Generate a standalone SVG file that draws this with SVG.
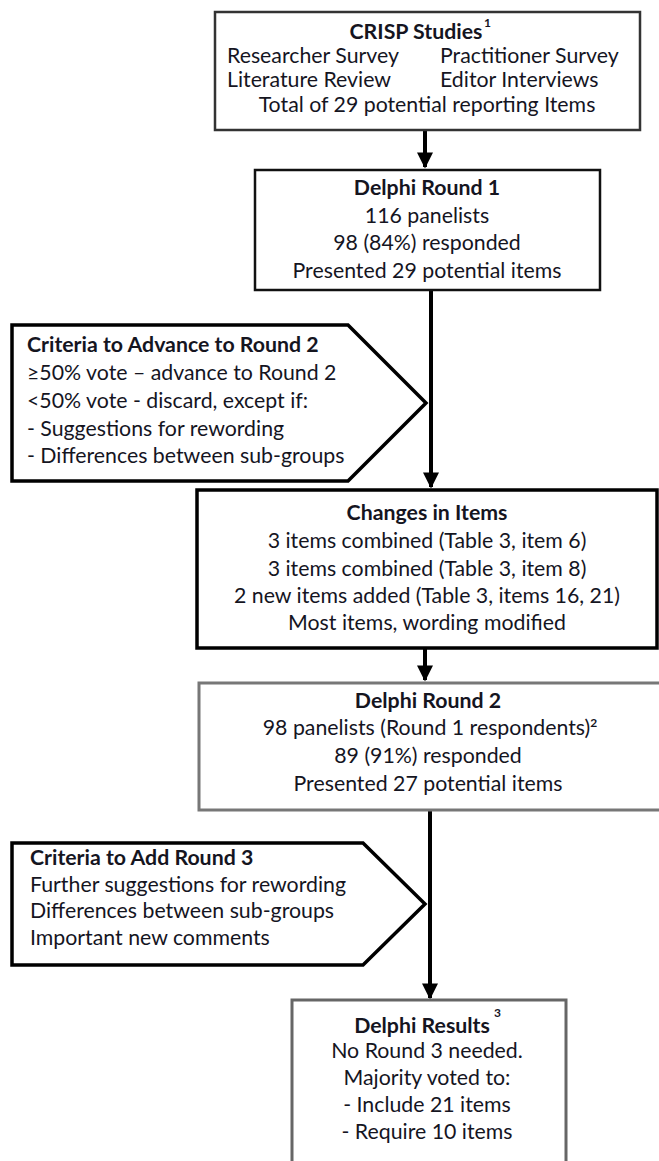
<svg xmlns="http://www.w3.org/2000/svg" width="659" height="1161" viewBox="0 0 659 1161">
<defs>
<style>
text{font-family:Lato,"Liberation Sans",sans-serif;font-size:21.3px;fill:#15151f}
.b{font-weight:bold}
.c{text-anchor:middle}
.sup{font-size:12px;font-weight:bold}
.box{fill:#fff}
.conn line{stroke:#000;stroke-width:4}
</style>
<marker id="ah" viewBox="0 0 10 10" refX="9" refY="5" markerWidth="4.2" markerHeight="4" orient="auto" markerUnits="strokeWidth">
<path d="M0,0 L10,5 L0,10 z" fill="#000"/>
</marker>
</defs>
<rect width="659" height="1161" fill="#fff"/>

<g id="connectors" class="conn">
<line x1="425" y1="131" x2="425" y2="167" marker-end="url(#ah)"/>
<line x1="431" y1="291" x2="431" y2="487" marker-end="url(#ah)"/>
<line x1="425" y1="649" x2="425" y2="680" marker-end="url(#ah)"/>
<line x1="430" y1="811" x2="430" y2="998" marker-end="url(#ah)"/>
</g>

<g id="crisp">
<rect class="box" x="215" y="12" width="425" height="118" stroke="#333" stroke-width="2.5"/>
<text class="b c" x="416" y="39">CRISP Studies</text>
<text class="sup" x="484" y="27">1</text>
<text x="227" y="63">Researcher Survey</text>
<text x="440" y="63">Practitioner Survey</text>
<text x="227" y="87">Literature Review</text>
<text x="440" y="87">Editor Interviews</text>
<text class="c" x="427" y="112">Total of 29 potential reporting Items</text>
</g>

<g id="round1">
<rect class="box" x="255" y="170" width="345" height="120" stroke="#111" stroke-width="2.5"/>
<text class="b c" x="427" y="195">Delphi Round 1</text>
<text class="c" x="427" y="223">116 panelists</text>
<text class="c" x="427" y="250">98 (84%) responded</text>
<text class="c" x="427" y="278">Presented 29 potential items</text>
</g>

<g id="criteria2">
<path class="box" d="M12,325 H348 L426,403 L348,481 H12 Z" stroke="#000" stroke-width="3.5" stroke-linejoin="miter"/>
<text class="b" x="27" y="352">Criteria to Advance to Round 2</text>
<text x="27" y="380">≥50% vote – advance to Round 2</text>
<text x="27" y="408">&lt;50% vote - discard, except if:</text>
<text x="27" y="436">- Suggestions for rewording</text>
<text x="27" y="463">- Differences between sub-groups</text>
</g>

<g id="changes">
<rect class="box" x="197" y="490" width="460" height="158" stroke="#000" stroke-width="3.5"/>
<text class="b c" x="427" y="520">Changes in Items</text>
<text class="c" x="427" y="548">3 items combined (Table 3, item 6)</text>
<text class="c" x="427" y="576">3 items combined (Table 3, item 8)</text>
<text class="c" x="427" y="603">2 new items added (Table 3, items 16, 21)</text>
<text class="c" x="427" y="630">Most items, wording modified</text>
</g>

<g id="round2">
<rect class="box" x="199" y="683" width="470" height="127" stroke="#777" stroke-width="3"/>
<text class="b c" x="428" y="708">Delphi Round 2</text>
<text class="c" x="430" y="735">98 panelists (Round 1 respondents)<tspan class="sup" dy="-8">2</tspan></text>
<text class="c" x="428" y="763">89 (91%) responded</text>
<text class="c" x="428" y="791">Presented 27 potential items</text>
</g>

<g id="criteria3">
<path class="box" d="M12,843 H363 L425,904 L363,965 H12 Z" stroke="#000" stroke-width="3.5"/>
<text class="b" x="30" y="865">Criteria to Add Round 3</text>
<text x="30" y="892">Further suggestions for rewording</text>
<text x="30" y="918">Differences between sub-groups</text>
<text x="30" y="945">Important new comments</text>
</g>

<g id="results">
<rect class="box" x="292" y="1000" width="274" height="175" stroke="#666" stroke-width="3"/>
<text class="b c" x="422" y="1033">Delphi Results</text>
<text class="sup" x="494" y="1017">3</text>
<text class="c" x="427" y="1058">No Round 3 needed.</text>
<text class="c" x="427" y="1085">Majority voted to:</text>
<text class="c" x="427" y="1112">- Include 21 items</text>
<text class="c" x="427" y="1139">- Require 10 items</text>
</g>
</svg>
